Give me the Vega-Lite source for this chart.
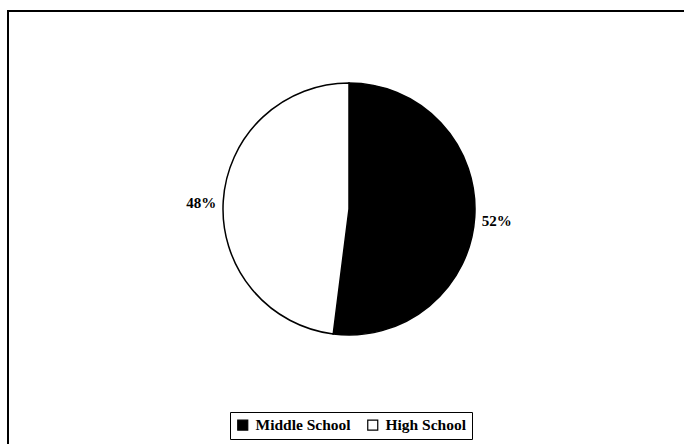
{
  "$schema": "https://vega.github.io/schema/vega-lite/v6.json",
  "autosize": "none",
  "width": 682,
  "height": 440,
  "padding": {"left": 8, "top": 11, "right": 0, "bottom": 0},
  "background": "white",
  "config": {
    "view": {"stroke": null},
    "font": "Liberation Serif"
  },
  "data": {
    "values": [
      {"level": "Middle School", "share": 52, "label": "52%", "idx": 1},
      {"level": "High School", "share": 48, "label": "48%", "idx": 2}
    ]
  },
  "layer": [
    {
      "data": {"values": [{"frame": 1}]},
      "mark": {"type": "rect", "fill": "white", "fillOpacity": 0, "stroke": "black", "strokeWidth": 2},
      "encoding": {}
    },
    {
      "mark": {"type": "arc", "outerRadius": 126, "stroke": "black", "strokeWidth": 1.5, "yOffset": -22},
      "encoding": {
        "theta": {"field": "share", "type": "quantitative", "stack": true},
        "order": {"field": "idx", "type": "ordinal"},
        "color": {
          "field": "level",
          "type": "nominal",
          "sort": ["Middle School", "High School"],
          "scale": {"domain": ["Middle School", "High School"], "range": ["black", "white"]},
          "legend": {
            "title": null,
            "orient": "none",
            "direction": "horizontal",
            "legendX": 222,
            "legendY": 401,
            "strokeColor": "black",
            "fillColor": "white",
            "padding": 5,
            "symbolType": "square",
            "symbolSize": 100,
            "symbolStrokeColor": "black",
            "symbolStrokeWidth": 1.2,
            "symbolOpacity": 1,
            "labelFont": "Liberation Serif",
            "labelFontSize": 15.5,
            "labelFontWeight": "bold",
            "labelColor": "black",
            "columnPadding": 14,
            "labelOffset": 5
          }
        }
      }
    },
    {
      "mark": {"type": "text", "radius": 148, "yOffset": -19, "font": "Liberation Serif", "fontSize": 15, "fontWeight": "bold", "color": "black"},
      "encoding": {
        "theta": {"field": "share", "type": "quantitative", "stack": true},
        "order": {"field": "idx", "type": "ordinal"},
        "text": {"field": "label", "type": "nominal"}
      }
    }
  ]
}
